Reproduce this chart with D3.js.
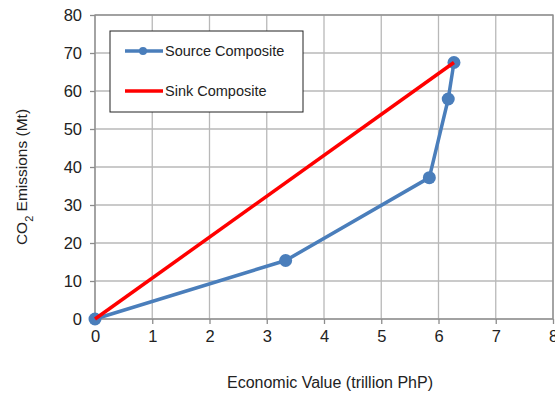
<!DOCTYPE html>
<html>
<head>
<meta charset="utf-8">
<script src="https://cdn.jsdelivr.net/npm/d3@7"></script>
<style>
  body { margin: 0; background: #fff; }
  text { font-family: "Liberation Sans", Arial, sans-serif; fill: #222; }
</style>
</head>
<body>
<svg width="555" height="396"></svg>
<script>
const sourceX = [0, 3.33, 5.84, 6.17, 6.27];
const sourceY = [0, 15.4, 37.2, 57.9, 67.5];
const sinkX = [0, 6.27];
const sinkY = [0, 67.5];
const xTicks = [0, 1, 2, 3, 4, 5, 6, 7, 8];
const yTicks = [0, 10, 20, 30, 40, 50, 60, 70, 80];

const svg = d3.select("svg"),
      margin = { top: 15, right: 2, bottom: 77, left: 95 },
      width = 555 - margin.left - margin.right,
      height = 396 - margin.top - margin.bottom,
      g = svg.append("g").attr("transform", `translate(${margin.left},${margin.top})`);

const x = d3.scaleLinear().domain([0, 8]).range([0, width]);
const y = d3.scaleLinear().domain([0, 80]).range([height, 0]);

// grid
g.selectAll(".vgrid").data(xTicks).enter().append("line")
  .attr("x1", d => x(d)).attr("x2", d => x(d))
  .attr("y1", 0).attr("y2", height)
  .attr("stroke", "#b8b8b8").attr("stroke-width", 1.3);
g.selectAll(".hgrid").data(yTicks).enter().append("line")
  .attr("x1", 0).attr("x2", width)
  .attr("y1", d => y(d)).attr("y2", d => y(d))
  .attr("stroke", "#b8b8b8").attr("stroke-width", 1.3);

g.append("rect").attr("width", width).attr("height", height)
  .attr("fill", "none").attr("stroke", "#8c8c8c").attr("stroke-width", 1.3);

const xAxis = g.append("g").attr("transform", `translate(0,${height})`)
  .call(d3.axisBottom(x).tickValues(xTicks).tickSize(5).tickPadding(6).tickFormat(d3.format("d")));
const yAxis = g.append("g")
  .call(d3.axisLeft(y).tickValues(yTicks).tickSize(5).tickPadding(8).tickFormat(d3.format("d")));
[xAxis, yAxis].forEach(a => {
  a.select(".domain").remove();
  a.selectAll("line").attr("stroke", "#8c8c8c").attr("stroke-width", 1.3);
  a.selectAll("text").style("font-size", "16.5px").style("font-family", "Liberation Sans, Arial, sans-serif").attr("fill", "#222");
});

const line = d3.line().x(d => x(d[0])).y(d => y(d[1]));

const sink = sinkX.map((v, i) => [v, sinkY[i]]);
const source = sourceX.map((v, i) => [v, sourceY[i]]);

g.append("path").datum(source).attr("d", line)
  .attr("fill", "none").attr("stroke", "#4a7ebb").attr("stroke-width", 3.5)
  .attr("stroke-linejoin", "round");
g.selectAll(".pt").data(source).enter().append("circle")
  .attr("cx", d => x(d[0])).attr("cy", d => y(d[1])).attr("r", 6.5)
  .attr("fill", "#4a7ebb");
g.append("path").datum(sink).attr("d", line)
  .attr("fill", "none").attr("stroke", "#ff0000").attr("stroke-width", 3.5);

// legend
const legend = svg.append("g").attr("transform", "translate(110,31)");
legend.append("rect").attr("width", 193).attr("height", 81)
  .attr("fill", "#fff").attr("stroke", "#222").attr("stroke-width", 1);
legend.append("line").attr("x1", 15).attr("x2", 53).attr("y1", 20).attr("y2", 20)
  .attr("stroke", "#4a7ebb").attr("stroke-width", 3.5);
legend.append("circle").attr("cx", 33).attr("cy", 20).attr("r", 4).attr("fill", "#4a7ebb");
legend.append("text").attr("x", 55).attr("y", 20).attr("dy", "0.35em")
  .style("font-size", "14.5px").text("Source Composite");
legend.append("line").attr("x1", 15).attr("x2", 53).attr("y1", 60).attr("y2", 60)
  .attr("stroke", "#ff0000").attr("stroke-width", 3.5);
legend.append("text").attr("x", 55).attr("y", 60).attr("dy", "0.35em")
  .style("font-size", "14.5px").text("Sink Composite");

// axis titles
svg.append("text").attr("x", 330).attr("y", 388)
  .attr("text-anchor", "middle").style("font-size", "16px")
  .text("Economic Value (trillion PhP)");
const yt = svg.append("text")
  .attr("transform", "translate(27,177) rotate(-90)")
  .attr("text-anchor", "middle").style("font-size", "15.5px");
yt.append("tspan").text("CO");
yt.append("tspan").attr("baseline-shift", "sub").style("font-size", "11px").text("2");
yt.append("tspan").text(" Emissions (Mt)");
</script>
</body>
</html>
